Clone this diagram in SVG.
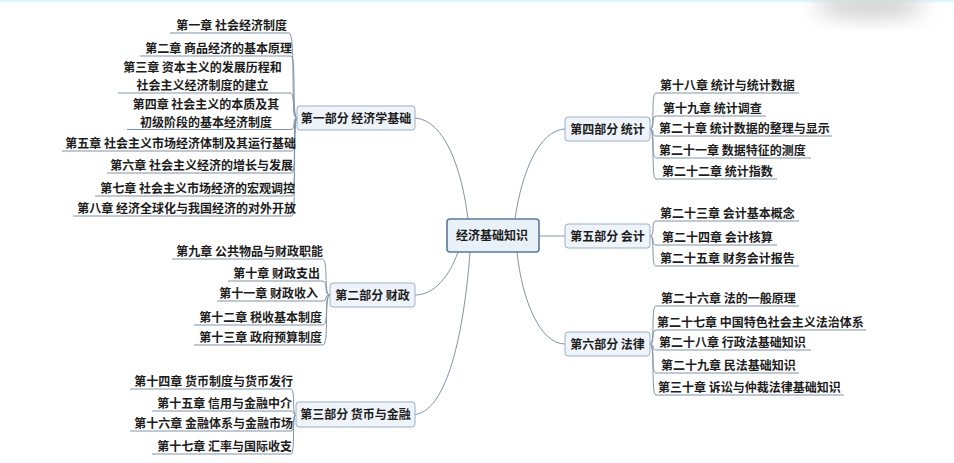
<svg xmlns="http://www.w3.org/2000/svg" width="954" height="463" viewBox="0 0 954 463">
<defs>
<style>
.t{font-family:"Noto Sans CJK SC","Noto Sans",sans-serif;font-weight:bold;font-size:12px;fill:#1c1c1c}
.p{font-family:"Noto Sans CJK SC","Noto Sans",sans-serif;font-weight:bold;font-size:12px;fill:#1c1c1c;text-anchor:middle}
.l{text-anchor:end}
.m{text-anchor:middle}
.c{fill:none;stroke:#7f94aa;stroke-width:1}
.box{fill:#eef4fa;stroke:#9cb0c4;stroke-width:1}
.root{fill:#e8f0f8;stroke:#5b7a99;stroke-width:1.6}
</style>
<filter id="blur" x="-50%" y="-50%" width="200%" height="200%"><feGaussianBlur stdDeviation="10"/></filter>
<linearGradient id="top" x1="0" y1="0" x2="0" y2="1"><stop offset="0" stop-color="#d6f2f5"/><stop offset="1" stop-color="#ffffff" stop-opacity="0"/></linearGradient>
</defs>
<rect width="954" height="463" fill="#ffffff"/>
<rect width="954" height="5" fill="url(#top)"/>
<ellipse cx="870" cy="6" rx="55" ry="12" fill="#cfcfcf" filter="url(#blur)"/>

<g id="connectors">
<path class="c" d="M415,118 C445,120 462,170 468,219"/>
<path class="c" d="M415,295 C435,295 450,275 458,252"/>
<path class="c" d="M415,414.5 C450,410 465,320 470,252"/>
<path class="c" d="M565,129 C540,130 522,170 515,219"/>
<path class="c" d="M539,236 H565"/>
<path class="c" d="M565,344 C540,344 522,300 517,252"/>
<path class="c" d="M170,33 H289 C296.2,33 289.8,118 297,118"/>
<path class="c" d="M140,56 H291 C296.4,56 291.6,118 297,118"/>
<path class="c" d="M118,93 H290 C296.3,93 290.7,118 297,118"/>
<path class="c" d="M127,129.5 H291 C296.4,129.5 291.6,118 297,118"/>
<path class="c" d="M62,151 H292 C296.5,151 292.5,118 297,118"/>
<path class="c" d="M107,173 H292 C296.5,173 292.5,118 297,118"/>
<path class="c" d="M95,196 H292 C296.5,196 292.5,118 297,118"/>
<path class="c" d="M73,216 H292 C296.5,216 292.5,118 297,118"/>
<path class="c" d="M172,259 H322 C329.2,259 322.8,295 330,295"/>
<path class="c" d="M228,281 H322 C329.2,281 322.8,295 330,295"/>
<path class="c" d="M217,301 H322 C329.2,301 322.8,295 330,295"/>
<path class="c" d="M194,325 H323 C329.3,325 323.7,295 330,295"/>
<path class="c" d="M194,345 H323 C329.3,345 323.7,295 330,295"/>
<path class="c" d="M130,389 H291 C295.5,389 291.5,414.5 296,414.5"/>
<path class="c" d="M152,411 H291 C295.5,411 291.5,414.5 296,414.5"/>
<path class="c" d="M130,431 H291 C295.5,431 291.5,414.5 296,414.5"/>
<path class="c" d="M152,454 H291 C295.5,454 291.5,414.5 296,414.5"/>
<path class="c" d="M650,129 C655.4,129 650.6,93 656,93 H799"/>
<path class="c" d="M650,129 C655.4,129 650.6,116 656,116 H766"/>
<path class="c" d="M650,129 C655.4,129 650.6,136 656,136 H832"/>
<path class="c" d="M650,129 C655.4,129 650.6,158 656,158 H811"/>
<path class="c" d="M650,129 C655.4,129 650.6,179 656,179 H777"/>
<path class="c" d="M650,236 C655.4,236 650.6,221 656,221 H799"/>
<path class="c" d="M650,236 C655.4,236 650.6,245 656,245 H777"/>
<path class="c" d="M650,236 C655.4,236 650.6,266 656,266 H799"/>
<path class="c" d="M650,344 C655.4,344 650.6,306 656,306 H799"/>
<path class="c" d="M650,344 C655.4,344 650.6,330 656,330 H866"/>
<path class="c" d="M650,344 C655.4,344 650.6,350 656,350 H811"/>
<path class="c" d="M650,344 C655.4,344 650.6,373 656,373 H799"/>
<path class="c" d="M650,344 C655.4,344 650.6,395 656,395 H844"/>
</g>

<g id="root"><rect class="root" x="447" y="219" width="92" height="33" rx="3"/><text class="p" x="492" y="239.5">经济基础知识</text></g>

<g id="part1"><rect class="box" x="297" y="106" width="118" height="24" rx="3"/><text class="p" x="356" y="122.5">第一部分 经济学基础</text></g>
<g id="part2"><rect class="box" x="330" y="283" width="85" height="24" rx="3"/><text class="p" x="372.5" y="299.5">第二部分 财政</text></g>
<g id="part3"><rect class="box" x="296" y="402" width="119" height="25" rx="3"/><text class="p" x="355.5" y="419">第三部分 货币与金融</text></g>
<g id="part4"><rect class="box" x="565" y="117" width="85" height="24" rx="3"/><text class="p" x="607.5" y="133.5">第四部分 统计</text></g>
<g id="part5"><rect class="box" x="565" y="224" width="85" height="24" rx="3"/><text class="p" x="607.5" y="240.5">第五部分 会计</text></g>
<g id="part6"><rect class="box" x="565" y="332" width="85" height="24" rx="3"/><text class="p" x="607.5" y="348.5">第六部分 法律</text></g>

<g id="ch1"><text class="t l" x="287" y="29.5">第一章 社会经济制度</text></g>
<g id="ch2"><text class="t l" x="292" y="52.5">第二章 商品经济的基本原理</text></g>
<g id="ch3"><text class="t m" x="202.5" y="72.2">第三章 资本主义的发展历程和</text><text class="t m" x="202.5" y="89.8">社会主义经济制度的建立</text></g>
<g id="ch4"><text class="t m" x="206" y="109.2">第四章 社会主义的本质及其</text><text class="t m" x="206" y="126.8">初级阶段的基本经济制度</text></g>
<g id="ch5"><text class="t l" x="296" y="147.5">第五章 社会主义市场经济体制及其运行基础</text></g>
<g id="ch6"><text class="t l" x="293" y="169.5">第六章 社会主义经济的增长与发展</text></g>
<g id="ch7"><text class="t l" x="295" y="192.5">第七章 社会主义市场经济的宏观调控</text></g>
<g id="ch8"><text class="t l" x="296" y="212.5">第八章 经济全球化与我国经济的对外开放</text></g>

<g id="ch9"><text class="t l" x="323" y="255.5">第九章 公共物品与财政职能</text></g>
<g id="ch10"><text class="t l" x="320" y="277.5">第十章 财政支出</text></g>
<g id="ch11"><text class="t l" x="318" y="297.5">第十一章 财政收入</text></g>
<g id="ch12"><text class="t l" x="322" y="321.5">第十二章 税收基本制度</text></g>
<g id="ch13"><text class="t l" x="322" y="341.5">第十三章 政府预算制度</text></g>

<g id="ch14"><text class="t l" x="293" y="385.5">第十四章 货币制度与货币发行</text></g>
<g id="ch15"><text class="t l" x="292" y="407.5">第十五章 信用与金融中介</text></g>
<g id="ch16"><text class="t l" x="293" y="427.5">第十六章 金融体系与金融市场</text></g>
<g id="ch17"><text class="t l" x="292" y="450.5">第十七章 汇率与国际收支</text></g>

<g id="ch18"><text class="t" x="660" y="89.5">第十八章 统计与统计数据</text></g>
<g id="ch19"><text class="t" x="663" y="112.5">第十九章 统计调查</text></g>
<g id="ch20"><text class="t" x="659" y="132.5">第二十章 统计数据的整理与显示</text></g>
<g id="ch21"><text class="t" x="659" y="154.5">第二十一章 数据特征的测度</text></g>
<g id="ch22"><text class="t" x="662" y="175.5">第二十二章 统计指数</text></g>

<g id="ch23"><text class="t" x="660" y="217.5">第二十三章 会计基本概念</text></g>
<g id="ch24"><text class="t" x="662" y="241.5">第二十四章 会计核算</text></g>
<g id="ch25"><text class="t" x="660" y="262.5">第二十五章 财务会计报告</text></g>

<g id="ch26"><text class="t" x="661" y="302.5">第二十六章 法的一般原理</text></g>
<g id="ch27"><text class="t" x="657" y="326.5">第二十七章 中国特色社会主义法治体系</text></g>
<g id="ch28"><text class="t" x="659" y="346.5">第二十八章 行政法基础知识</text></g>
<g id="ch29"><text class="t" x="661" y="369.5">第二十九章 民法基础知识</text></g>
<g id="ch30"><text class="t" x="658" y="391.5">第三十章 诉讼与仲裁法律基础知识</text></g>
</svg>
